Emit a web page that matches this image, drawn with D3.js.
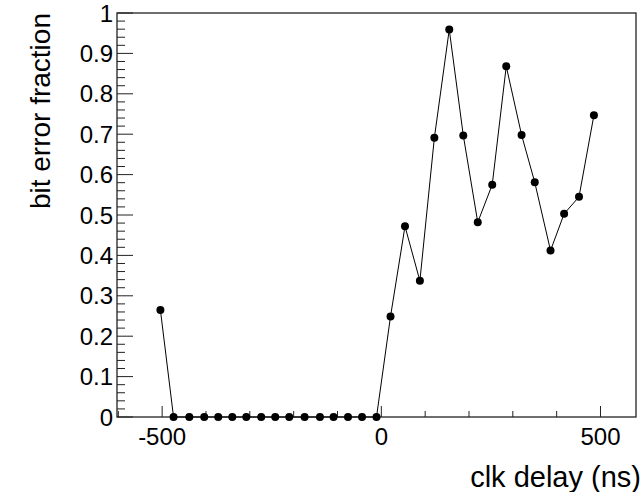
<!DOCTYPE html>
<html lang="en">

<head>
    <meta charset="UTF-8">
    <title>bit error fraction</title>
    <style>
        body {
            margin: 0;
            background: white;
        }

        svg {
            font-family: "Liberation Sans", Arial, sans-serif;
        }
    </style>
</head>

<body>
    <svg width="644" height="492"></svg>
    <script src="https://cdn.jsdelivr.net/npm/d3@7.8.5/dist/d3.min.js"></script>
    <script>
        // clk delay (ns) and the measured bit error fraction
        const delays = [-504, -474, -438, -404, -372, -340, -308, -274, -242, -210, -175, -140, -109, -76, -44, -11,
            21, 54, 88, 121, 155, 187, 220, 253, 285, 320, 350, 386, 417, 451, 485]
        const fractions = [0.265, 0, 0, 0, 0, 0, 0, 0, 0, 0, 0, 0, 0, 0, 0, 0,
            0.249, 0.472, 0.337, 0.691, 0.959, 0.697, 0.482, 0.575, 0.868, 0.698, 0.581, 0.412, 0.503, 0.545, 0.747]
        const xTicks = [-500, 0, 500]
        const yTicks = [0, 0.1, 0.2, 0.3, 0.4, 0.5, 0.6, 0.7, 0.8, 0.9, 1]

        const points = delays.map((d, i) => ({ x: d, y: fractions[i] }))

        const frameLeft = 117, frameRight = 636, frameTop = 13, frameBottom = 417

        const svg = d3.select('svg')

        const x = d3.scaleLinear().domain([-603, 581]).range([frameLeft, frameRight])
        const y = d3.scaleLinear().domain([0, 1]).range([frameBottom, frameTop])

        // frame
        svg.append('rect')
            .attr('x', frameLeft)
            .attr('y', frameTop)
            .attr('width', frameRight - frameLeft)
            .attr('height', frameBottom - frameTop)
            .attr('fill', 'none')
            .attr('stroke', '#222')
            .attr('stroke-width', 1.3)

        // x axis: major ticks with labels, minor ticks every 100
        const xAxis = svg.append('g').attr('transform', `translate(0,${frameBottom})`)
        xAxis.selectAll('line.minor')
            .data(d3.range(-600, 600, 100).filter(v => !xTicks.includes(v) && v > -603))
            .join('line')
            .attr('class', 'minor')
            .attr('x1', d => x(d)).attr('x2', d => x(d))
            .attr('y1', 0).attr('y2', -6)
            .attr('stroke', '#222')
        xAxis.selectAll('line.major')
            .data(xTicks)
            .join('line')
            .attr('class', 'major')
            .attr('x1', d => x(d)).attr('x2', d => x(d))
            .attr('y1', 0).attr('y2', -11)
            .attr('stroke', '#222')
        xAxis.selectAll('text')
            .data(xTicks)
            .join('text')
            .attr('x', d => x(d))
            .attr('y', 28)
            .attr('text-anchor', 'middle')
            .attr('font-size', 24)
            .text(d => d)

        // y axis: major ticks every 0.1, minor every 0.02
        const yAxis = svg.append('g').attr('transform', `translate(${frameLeft},0)`)
        yAxis.selectAll('line.minor')
            .data(d3.range(0, 50).map(i => i * 0.02).filter((v, i) => i % 5 !== 0))
            .join('line')
            .attr('class', 'minor')
            .attr('x1', 0).attr('x2', 8)
            .attr('y1', d => y(d)).attr('y2', d => y(d))
            .attr('stroke', '#222')
        yAxis.selectAll('line.major')
            .data(yTicks)
            .join('line')
            .attr('class', 'major')
            .attr('x1', 0).attr('x2', 16)
            .attr('y1', d => y(d)).attr('y2', d => y(d))
            .attr('stroke', '#222')
        yAxis.selectAll('text')
            .data(yTicks)
            .join('text')
            .attr('x', -4)
            .attr('y', d => y(d))
            .attr('dy', '0.36em')
            .attr('text-anchor', 'end')
            .attr('font-size', 24)
            .text(d => d3.format('~g')(d))

        // titles
        svg.append('text')
            .attr('x', 641)
            .attr('y', 487)
            .attr('text-anchor', 'end')
            .attr('font-size', 29)
            .text('clk delay (ns)')

        svg.append('text')
            .attr('transform', `translate(50,${frameTop}) rotate(-90)`)
            .attr('text-anchor', 'end')
            .attr('font-size', 28)
            .text('bit error fraction')

        // data
        const line = d3.line().x(d => x(d.x)).y(d => y(d.y))
        svg.append('path')
            .datum(points)
            .attr('d', line)
            .attr('fill', 'none')
            .attr('stroke', 'black')
            .attr('stroke-width', 1)

        svg.selectAll('circle')
            .data(points)
            .join('circle')
            .attr('cx', d => x(d.x))
            .attr('cy', d => y(d.y))
            .attr('r', 4)
            .attr('fill', 'black')
    </script>
</body>

</html>
